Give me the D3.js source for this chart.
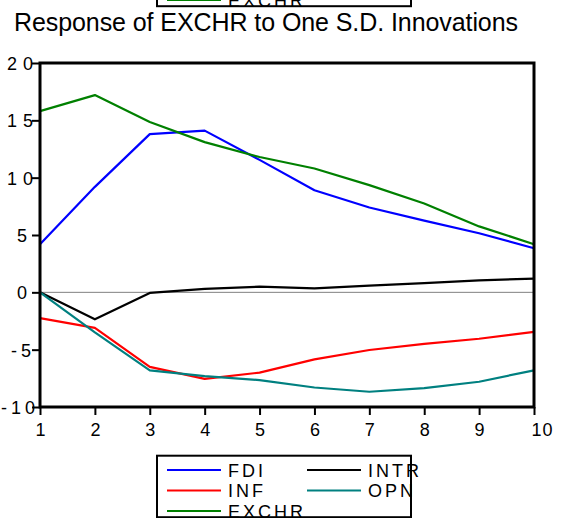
<!DOCTYPE html>
<html>
<head>
<meta charset="utf-8">
<script src="https://cdn.jsdelivr.net/npm/d3@7"></script>
<style>
  body { margin: 0; background: #fff; }
  svg { display: block; font-family: "Liberation Sans", Arial, sans-serif; }
</style>
</head>
<body>
<svg id="chart" width="564" height="518"></svg>
<script>
// data
var periods = [1, 2, 3, 4, 5, 6, 7, 8, 9, 10]
var FDI   = [4.2, 9.2, 13.8, 14.1, 11.55, 8.9, 7.4, 6.25, 5.15, 3.85]
var INF   = [-2.25, -3.1, -6.5, -7.55, -7.0, -5.85, -5.03, -4.5, -4.05, -3.45]
var EXCHR = [15.8, 17.2, 14.85, 13.1, 11.8, 10.8, 9.35, 7.75, 5.75, 4.2]
var INTR  = [0, -2.35, -0.05, 0.3, 0.49, 0.35, 0.58, 0.8, 1.05, 1.2]
var OPN   = [0, -3.5, -6.8, -7.3, -7.65, -8.3, -8.67, -8.35, -7.8, -6.8]
var yTicks = [20, 15, 10, 5, 0, -5, -10]

var series = [
  {key: 'FDI', values: FDI, color: '#0000ff'},
  {key: 'INF', values: INF, color: '#ff0000'},
  {key: 'EXCHR', values: EXCHR, color: '#008000'},
  {key: 'INTR', values: INTR, color: '#000000'},
  {key: 'OPN', values: OPN, color: '#008080'}
]

var svg = d3.select('#chart')
// plot box (window.top is reserved, so p-prefixed names)
var pLeft = 40, pRight = 534, pTop = 63, pBottom = 407

var x = d3.scaleLinear().domain([1, 10]).range([pLeft, pRight])
var y = d3.scaleLinear().domain([-10, 20]).range([pBottom, pTop])

// title
svg.append('text')
  .attr('x', 14).attr('y', 31)
  .attr('textLength', 504).attr('lengthAdjust', 'spacing')
  .style('font-size', '25px')
  .text('Response of EXCHR to One S.D. Innovations')

// zero line
svg.append('line')
  .attr('x1', pLeft).attr('x2', pRight)
  .attr('y1', y(0)).attr('y2', y(0))
  .attr('stroke', '#808080').attr('stroke-width', 1)

// lines
var line = d3.line()
  .x(function(d, i) { return x(periods[i]) })
  .y(function(d) { return y(d) })

svg.selectAll('.series')
  .data(series)
  .enter().append('path')
  .attr('class', 'series')
  .attr('d', function(d) { return line(d.values) })
  .attr('fill', 'none')
  .attr('stroke', function(d) { return d.color })
  .attr('stroke-width', 2.2)
  .attr('stroke-linejoin', 'round')

// axes, plain hyphen for negatives
var fmt = function(d) { return String(d) }
var yAxis = svg.append('g')
  .attr('transform', 'translate(' + pLeft + ',0)')
  .call(d3.axisLeft(y).tickValues(yTicks).tickSize(8).tickFormat(fmt))
var xAxis = svg.append('g')
  .attr('transform', 'translate(0,' + pBottom + ')')
  .call(d3.axisBottom(x).tickValues(periods).tickSize(8).tickFormat(fmt))

svg.selectAll('.domain').remove()
svg.selectAll('.tick line').attr('stroke', '#000').attr('stroke-width', 2)
svg.selectAll('.tick text')
  .attr('fill', '#000')
  .attr('font-size', null)
  .style('font-size', '18px')
  .style('font-family', '"Liberation Sans", Arial, sans-serif')

// y labels: natural width ends at x=27, then wide spacing pushes later digits right
yAxis.selectAll('.tick text').each(function(d) {
  var t = d3.select(this)
  var w0 = this.getComputedTextLength()
  t.attr('text-anchor', 'start').attr('x', 27 - pLeft - w0).attr('dy', '0.36em')
    .style('letter-spacing', d < 0 ? '4px' : '6px')
})
xAxis.selectAll('.tick text').each(function(d) {
  var t = d3.select(this)
  var w0 = this.getComputedTextLength()
  var off = d >= 10 ? -3 : -w0 / 2
  t.attr('text-anchor', 'start').attr('x', off).attr('y', 29).attr('dy', 0)
    .style('letter-spacing', d >= 10 ? '1px' : '0px')
})

// frame
svg.append('rect')
  .attr('x', pLeft).attr('y', pTop)
  .attr('width', pRight - pLeft).attr('height', pBottom - pTop)
  .attr('fill', 'none').attr('stroke', '#000').attr('stroke-width', 3)

// legend (EViews draws it twice: one clipped at top, one at bottom)
function drawLegend(dy) {
  var g = svg.append('g').attr('transform', 'translate(0,' + dy + ')')
  g.append('rect')
    .attr('x', 157).attr('y', 455.7)
    .attr('width', 254).attr('height', 61.5)
    .attr('fill', '#fff').attr('stroke', '#000').attr('stroke-width', 2)
  var pos = {
    FDI: [0, 0], INTR: [1, 0], INF: [0, 1], OPN: [1, 1], EXCHR: [0, 2]
  }
  series.forEach(function(s) {
    var p = pos[s.key]
    var lx = p[0] ? 307 : 167
    var ly = 470 + p[1] * 20.5
    g.append('line')
      .attr('x1', lx).attr('x2', lx + 54)
      .attr('y1', ly).attr('y2', ly)
      .attr('stroke', s.color).attr('stroke-width', 2.2)
    g.append('text')
      .attr('x', lx + 61).attr('y', ly + 6.5)
      .style('font-size', '18px').style('letter-spacing', '3px')
      .text(s.key)
  })
}
drawLegend(0)
drawLegend(-511)
</script>
</body>
</html>
